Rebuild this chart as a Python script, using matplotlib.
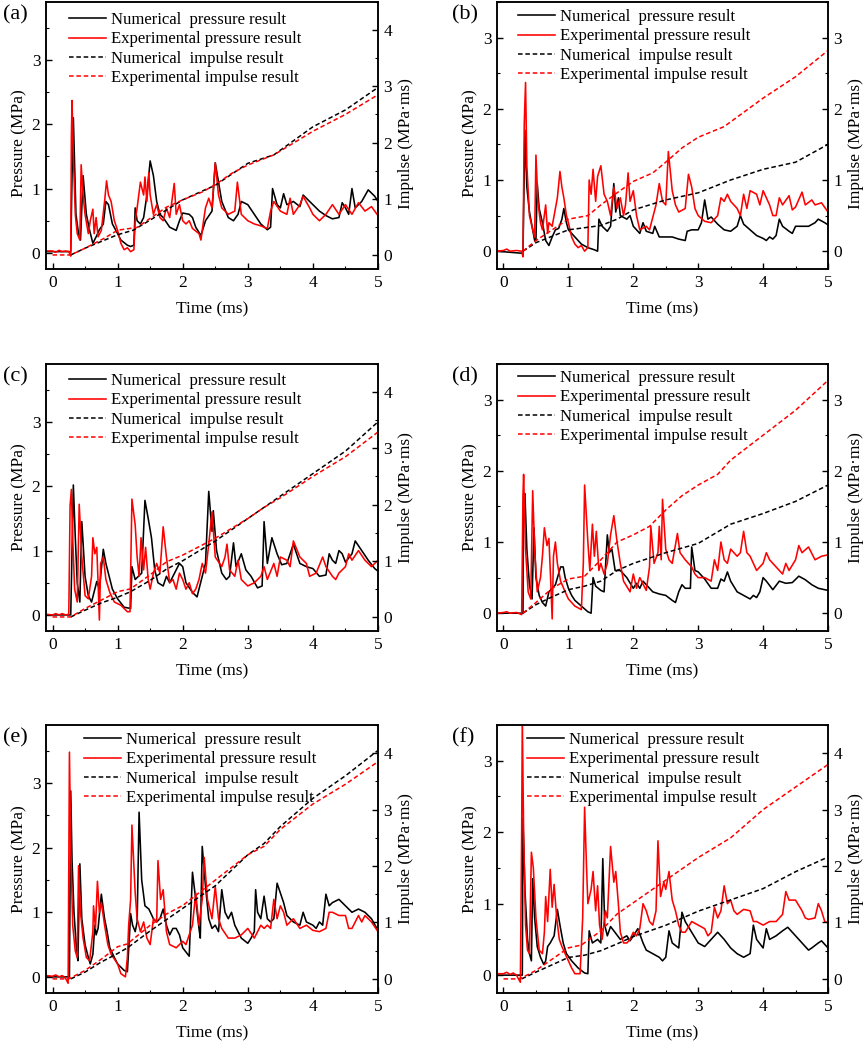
"""
Pressure / impulse time histories, numerical vs experimental, six cases (a)-(f).
"""
import matplotlib
matplotlib.use("Agg")
import matplotlib.pyplot as plt
from matplotlib.ticker import MultipleLocator
import numpy as np

plt.rcParams['font.family'] = ['Liberation Serif', 'DejaVu Serif']

LEGEND_LABELS = ['Numerical  pressure result', 'Experimental pressure result',
                 'Numerical  impulse result', 'Experimental impulse result']
PANEL_TAGS = ['(a)', '(b)', '(c)', '(d)', '(e)', '(f)']

# ---- (a) ----  (time ms, value)
A_NUM_P = [(-0.1, 0.02), (0.28, 0.02), (0.3, 1.2), (0.32, 2.1), (0.36, 0.6), (0.4, 0.3), (0.43, 0.2),
           (0.47, 1.2), (0.52, 0.6), (0.57, 0.35), (0.62, 0.15), (0.67, 0.25), (0.72, 0.36), (0.78, 0.45),
           (0.82, 0.8), (0.86, 0.75), (0.92, 0.45), (1.0, 0.3), (1.05, 0.2), (1.15, 0.12), (1.2, 0.1),
           (1.25, 0.12), (1.27, 0.7), (1.3, 0.5), (1.35, 0.45), (1.4, 0.55), (1.45, 0.9), (1.5, 1.43),
           (1.55, 1.2), (1.6, 0.8), (1.65, 0.6), (1.7, 0.55), (1.8, 0.4), (1.9, 0.35), (1.95, 0.5),
           (2.0, 0.62), (2.1, 0.6), (2.15, 0.55), (2.2, 0.4), (2.28, 0.27), (2.35, 0.5), (2.45, 0.65),
           (2.5, 1.4), (2.55, 1.1), (2.6, 0.8), (2.7, 0.55), (2.78, 0.5), (2.85, 0.6), (2.9, 0.8),
           (3.0, 0.75), (3.1, 0.6), (3.2, 0.45), (3.3, 0.36), (3.35, 0.4), (3.38, 1.0), (3.45, 0.75),
           (3.5, 0.7), (3.55, 0.92), (3.6, 0.75), (3.7, 0.8), (3.8, 0.72), (3.85, 0.9), (3.95, 0.8),
           (4.1, 0.65), (4.2, 0.58), (4.3, 0.53), (4.4, 0.55), (4.45, 0.78), (4.5, 0.7), (4.55, 0.6),
           (4.6, 1.0), (4.65, 0.7), (4.75, 0.8), (4.85, 0.98), (4.95, 0.88), (5.0, 0.8)]
A_EXP_P = [(-0.1, 0.03), (0.0, 0.03), (0.05, 0.01), (0.1, 0.04), (0.15, 0.02), (0.2, 0.03), (0.25, 0.02),
           (0.28, -0.05), (0.29, 1.8), (0.3, 2.37), (0.32, 1.5), (0.35, 0.6), (0.38, 0.3), (0.42, 0.2),
           (0.44, 1.37), (0.47, 0.9), (0.5, 0.6), (0.55, 0.3), (0.58, 0.5), (0.62, 0.68), (0.64, 0.3),
           (0.67, 0.55), (0.7, 0.25), (0.75, 0.35), (0.8, 0.8), (0.83, 1.12), (0.86, 0.9), (0.9, 0.8),
           (0.95, 0.5), (1.0, 0.35), (1.05, 0.15), (1.1, 0.05), (1.15, 0.08), (1.2, 0.02), (1.25, 0.05),
           (1.27, 0.5), (1.3, 0.7), (1.35, 1.1), (1.4, 0.9), (1.42, 1.18), (1.45, 0.8), (1.48, 1.25),
           (1.5, 0.9), (1.55, 0.6), (1.6, 0.75), (1.65, 0.55), (1.7, 0.5), (1.75, 0.7), (1.8, 0.55),
           (1.87, 1.08), (1.9, 0.6), (1.95, 0.75), (2.0, 0.5), (2.05, 0.45), (2.1, 0.5), (2.15, 0.38),
           (2.25, 0.3), (2.28, 0.2), (2.32, 0.5), (2.35, 0.7), (2.4, 0.85), (2.45, 0.7), (2.5, 1.4),
           (2.55, 0.9), (2.6, 0.7), (2.7, 0.6), (2.8, 0.65), (2.84, 1.1), (2.9, 0.6), (3.0, 0.5),
           (3.1, 0.45), (3.2, 0.42), (3.3, 0.38), (3.35, 0.65), (3.4, 0.8), (3.5, 0.65), (3.6, 0.6),
           (3.65, 0.85), (3.7, 0.6), (3.8, 0.75), (3.85, 0.88), (3.95, 0.7), (4.0, 0.6), (4.1, 0.5),
           (4.2, 0.6), (4.3, 0.75), (4.4, 0.6), (4.5, 0.75), (4.6, 0.6), (4.7, 0.78), (4.8, 0.65),
           (4.9, 0.72), (5.0, 0.58)]
A_NUM_I = [(0.28, 0.0), (0.5, 0.12), (0.75, 0.24), (1.0, 0.36), (1.24, 0.44), (1.5, 0.62), (2.0, 0.98),
           (2.5, 1.24), (3.0, 1.63), (3.4, 1.78), (4.0, 2.28), (4.5, 2.58), (5.0, 2.98)]
A_EXP_I = [(0.0, 0.0), (0.28, 0.0), (0.5, 0.12), (0.8, 0.3), (1.0, 0.44), (1.3, 0.49), (1.5, 0.65),
           (1.75, 0.85), (2.0, 0.98), (2.3, 1.12), (2.5, 1.25), (2.75, 1.45), (3.0, 1.6), (3.4, 1.78),
           (4.0, 2.2), (4.5, 2.5), (5.0, 2.85)]

# ---- (b) ----
B_NUM_P = [(-0.1, 0.0), (0.3, -0.03), (0.33, 1.7), (0.36, 0.9), (0.4, 0.55), (0.45, 0.3), (0.48, 0.15),
           (0.5, 0.15), (0.52, 0.95), (0.55, 0.6), (0.6, 0.4), (0.65, 0.15), (0.7, 0.08), (0.75, 0.2),
           (0.8, 0.3), (0.85, 0.32), (0.9, 0.45), (0.93, 0.6), (0.97, 0.4), (1.0, 0.3), (1.1, 0.2),
           (1.2, 0.1), (1.3, 0.05), (1.4, 0.02), (1.45, 0.0), (1.47, 0.45), (1.52, 0.35), (1.6, 0.28),
           (1.65, 0.35), (1.7, 0.95), (1.73, 0.55), (1.77, 0.75), (1.8, 0.5), (1.9, 0.45), (1.95, 0.5),
           (2.0, 0.35), (2.1, 0.25), (2.15, 0.4), (2.2, 0.28), (2.3, 0.25), (2.33, 0.35), (2.4, 0.2),
           (2.5, 0.2), (2.6, 0.2), (2.7, 0.17), (2.8, 0.15), (2.83, 0.28), (2.9, 0.3), (3.0, 0.3),
           (3.05, 0.4), (3.1, 0.72), (3.15, 0.45), (3.2, 0.48), (3.3, 0.38), (3.4, 0.3), (3.5, 0.28),
           (3.6, 0.35), (3.65, 0.5), (3.7, 0.38), (3.8, 0.3), (3.9, 0.22), (4.0, 0.18), (4.05, 0.15),
           (4.1, 0.2), (4.15, 0.17), (4.2, 0.22), (4.25, 0.45), (4.3, 0.35), (4.4, 0.28), (4.45, 0.25),
           (4.5, 0.35), (4.6, 0.35), (4.7, 0.35), (4.8, 0.4), (4.85, 0.45), (4.95, 0.4), (5.0, 0.37)]
B_EXP_P = [(-0.1, 0.0), (0.0, 0.01), (0.05, 0.03), (0.1, 0.0), (0.2, 0.01), (0.28, 0.0), (0.3, -0.08),
           (0.32, 1.8), (0.34, 2.37), (0.36, 1.2), (0.4, 0.5), (0.45, 0.3), (0.48, 0.2), (0.5, 1.35),
           (0.53, 0.7), (0.57, 0.4), (0.6, 0.3), (0.65, 0.65), (0.68, 0.25), (0.7, 0.4), (0.75, 0.35),
           (0.8, 0.6), (0.83, 0.75), (0.87, 1.12), (0.9, 0.9), (0.93, 0.75), (0.97, 0.5), (1.0, 0.4),
           (1.05, 0.2), (1.1, 0.1), (1.15, 0.05), (1.2, 0.08), (1.25, 0.0), (1.3, 0.05), (1.32, 1.0),
           (1.35, 0.8), (1.38, 1.15), (1.42, 0.7), (1.45, 1.05), (1.5, 1.2), (1.55, 0.8), (1.6, 0.7),
           (1.65, 0.5), (1.7, 0.9), (1.75, 0.6), (1.8, 0.75), (1.85, 0.5), (1.88, 0.65), (1.92, 1.1),
           (1.95, 0.7), (2.0, 0.85), (2.05, 0.5), (2.1, 0.3), (2.2, 0.35), (2.25, 0.3), (2.35, 0.65),
           (2.4, 0.95), (2.45, 0.7), (2.5, 0.65), (2.54, 1.4), (2.6, 0.85), (2.65, 0.65), (2.7, 0.55),
           (2.8, 0.6), (2.85, 1.08), (2.9, 0.9), (2.95, 0.6), (3.0, 0.5), (3.1, 0.42), (3.2, 0.4),
           (3.3, 0.5), (3.35, 0.75), (3.4, 0.7), (3.45, 0.8), (3.5, 0.7), (3.6, 0.6), (3.65, 0.5),
           (3.7, 0.8), (3.75, 0.6), (3.8, 0.85), (3.9, 0.8), (3.95, 0.65), (4.0, 0.85), (4.1, 0.65),
           (4.15, 0.5), (4.2, 0.5), (4.25, 0.75), (4.3, 0.65), (4.4, 0.78), (4.45, 0.58), (4.5, 0.62),
           (4.6, 0.83), (4.65, 0.65), (4.75, 0.72), (4.8, 0.65), (4.9, 0.68), (5.0, 0.55)]
B_NUM_I = [(0.3, 0.0), (0.5, 0.12), (1.0, 0.3), (1.5, 0.36), (1.75, 0.45), (2.0, 0.58), (2.5, 0.72),
           (3.0, 0.82), (3.5, 1.0), (4.0, 1.15), (4.5, 1.25), (5.0, 1.5)]
B_EXP_I = [(0.3, 0.0), (0.5, 0.15), (0.75, 0.3), (1.0, 0.45), (1.3, 0.5), (1.5, 0.65), (1.75, 0.82),
           (2.0, 0.98), (2.3, 1.1), (2.5, 1.25), (2.75, 1.45), (3.0, 1.6), (3.4, 1.75), (4.0, 2.15),
           (4.5, 2.45), (5.0, 2.82)]

# ---- (c) ----
C_NUM_P = [(-0.1, 0.0), (0.28, 0.0), (0.3, 1.0), (0.32, 2.02), (0.35, 1.2), (0.38, 0.5), (0.42, 0.2),
           (0.45, 1.45), (0.5, 0.6), (0.55, 0.3), (0.6, 0.2), (0.65, 0.4), (0.68, 0.52), (0.72, 0.4),
           (0.78, 1.02), (0.82, 0.8), (0.87, 0.6), (0.92, 0.4), (1.0, 0.25), (1.1, 0.12), (1.2, 0.1),
           (1.22, 0.75), (1.27, 0.55), (1.32, 0.6), (1.37, 0.65), (1.42, 1.78), (1.47, 1.5), (1.52, 1.2),
           (1.57, 0.7), (1.62, 0.5), (1.7, 0.45), (1.75, 0.6), (1.8, 0.5), (1.85, 0.6), (1.9, 0.7),
           (1.95, 0.8), (2.0, 0.75), (2.05, 0.5), (2.15, 0.35), (2.22, 0.28), (2.3, 0.6), (2.35, 0.8),
           (2.4, 1.92), (2.45, 1.3), (2.47, 1.62), (2.52, 1.0), (2.6, 0.65), (2.67, 0.55), (2.72, 0.6),
           (2.78, 1.12), (2.82, 0.75), (2.9, 0.95), (2.97, 0.7), (3.05, 0.6), (3.15, 0.42), (3.22, 0.45),
           (3.25, 1.45), (3.3, 0.8), (3.37, 1.2), (3.45, 0.95), (3.52, 0.78), (3.6, 0.8), (3.7, 1.1),
           (3.75, 0.95), (3.8, 0.8), (3.9, 0.75), (4.0, 0.72), (4.1, 0.6), (4.2, 0.62), (4.25, 0.95),
           (4.3, 0.85), (4.35, 0.8), (4.4, 1.0), (4.45, 0.95), (4.5, 0.82), (4.6, 0.95), (4.65, 1.15),
           (4.75, 1.0), (4.85, 0.85), (4.95, 0.72), (5.0, 0.68)]
C_EXP_P = [(-0.1, 0.01), (0.0, 0.0), (0.05, 0.02), (0.1, 0.0), (0.15, 0.02), (0.2, 0.0), (0.25, 0.01),
           (0.27, 1.7), (0.29, 1.95), (0.31, 1.2), (0.34, 0.4), (0.38, 0.2), (0.41, 1.72), (0.45, 0.9),
           (0.5, 0.3), (0.55, 0.25), (0.6, 0.6), (0.62, 1.2), (0.65, 0.95), (0.68, 1.05), (0.7, 0.5),
           (0.72, -0.08), (0.74, 0.8), (0.78, 0.9), (0.82, 0.55), (0.88, 0.35), (0.95, 0.2), (1.05, 0.15),
           (1.15, 0.05), (1.19, 0.05), (1.22, 1.8), (1.27, 1.4), (1.3, 0.9), (1.33, 0.6), (1.36, 1.2),
           (1.4, 0.7), (1.43, 1.05), (1.47, 0.55), (1.5, 0.4), (1.55, 0.65), (1.6, 0.8), (1.65, 0.65),
           (1.7, 1.37), (1.75, 0.9), (1.8, 0.5), (1.85, 0.55), (1.9, 0.4), (1.95, 0.65), (2.0, 0.55),
           (2.05, 0.4), (2.1, 0.5), (2.15, 0.33), (2.2, 0.4), (2.25, 0.55), (2.3, 0.8), (2.35, 0.65),
           (2.4, 1.1), (2.45, 1.6), (2.5, 0.9), (2.6, 0.75), (2.65, 0.9), (2.68, 1.1), (2.72, 0.7),
           (2.8, 0.6), (2.85, 0.85), (2.9, 0.55), (3.0, 0.45), (3.1, 0.5), (3.2, 0.6), (3.25, 0.75),
           (3.3, 0.55), (3.4, 0.8), (3.45, 0.6), (3.5, 0.9), (3.6, 0.85), (3.65, 0.75), (3.7, 1.15),
           (3.8, 0.9), (3.9, 0.8), (3.95, 0.6), (4.05, 0.65), (4.15, 0.9), (4.2, 0.75), (4.3, 0.6),
           (4.35, 0.55), (4.4, 0.65), (4.5, 0.75), (4.55, 0.95), (4.6, 0.85), (4.7, 1.0), (4.8, 0.85),
           (4.9, 0.75), (5.0, 0.85)]
C_NUM_I = [(0.28, 0.0), (0.5, 0.12), (0.75, 0.25), (1.0, 0.35), (1.2, 0.45), (1.5, 0.65), (1.75, 0.85),
           (2.0, 1.0), (2.5, 1.35), (3.0, 1.75), (3.25, 1.95), (3.5, 2.15), (4.0, 2.55), (4.5, 2.95),
           (5.0, 3.47)]
C_EXP_I = [(0.0, 0.0), (0.28, 0.0), (0.5, 0.15), (0.75, 0.3), (1.0, 0.45), (1.2, 0.5), (1.5, 0.75),
           (1.75, 0.98), (2.0, 1.1), (2.5, 1.4), (3.0, 1.75), (3.25, 1.95), (3.5, 2.12), (4.0, 2.5),
           (4.5, 2.85), (5.0, 3.29)]

# ---- (d) ----
D_NUM_P = [(-0.1, 0.0), (0.3, 0.0), (0.31, 1.65), (0.33, 1.68), (0.36, 0.9), (0.4, 0.4), (0.44, 0.2),
           (0.47, 1.2), (0.5, 0.5), (0.55, 0.25), (0.6, 0.15), (0.65, 0.1), (0.7, 0.3), (0.75, 0.35),
           (0.8, 0.4), (0.88, 0.65), (0.92, 0.65), (0.95, 0.5), (1.0, 0.35), (1.05, 0.25), (1.1, 0.18),
           (1.2, 0.1), (1.3, 0.02), (1.35, 0.0), (1.38, 0.5), (1.42, 0.38), (1.5, 0.32), (1.55, 0.3),
           (1.6, 1.1), (1.63, 0.85), (1.67, 0.9), (1.72, 0.6), (1.8, 0.6), (1.9, 0.5), (2.0, 0.35),
           (2.05, 0.42), (2.1, 0.35), (2.15, 0.45), (2.2, 0.4), (2.3, 0.3), (2.4, 0.27), (2.5, 0.25),
           (2.6, 0.18), (2.65, 0.15), (2.7, 0.3), (2.75, 0.4), (2.8, 0.35), (2.88, 0.35), (2.9, 0.93),
           (2.95, 0.6), (3.0, 0.58), (3.1, 0.48), (3.2, 0.35), (3.3, 0.35), (3.35, 0.48), (3.4, 0.45),
           (3.45, 0.58), (3.5, 0.45), (3.6, 0.3), (3.7, 0.25), (3.8, 0.2), (3.85, 0.25), (3.9, 0.22),
           (3.95, 0.3), (4.0, 0.5), (4.05, 0.45), (4.15, 0.33), (4.25, 0.45), (4.35, 0.42), (4.45, 0.43),
           (4.55, 0.52), (4.65, 0.47), (4.75, 0.4), (4.85, 0.35), (5.0, 0.32)]
D_EXP_P = [(-0.1, 0.0), (0.0, 0.01), (0.05, 0.02), (0.1, 0.0), (0.2, 0.01), (0.28, -0.02), (0.3, 1.65),
           (0.31, 1.95), (0.34, 0.9), (0.38, 0.3), (0.42, 0.2), (0.45, 1.72), (0.48, 0.9), (0.52, 0.3),
           (0.57, 0.5), (0.6, 0.8), (0.63, 1.2), (0.67, 0.95), (0.7, 1.05), (0.73, 0.4), (0.75, -0.08),
           (0.77, 0.8), (0.8, 1.0), (0.83, 0.7), (0.88, 0.45), (0.95, 0.3), (1.0, 0.2), (1.1, 0.1),
           (1.2, 0.05), (1.23, 0.7), (1.25, 1.8), (1.3, 1.0), (1.33, 0.6), (1.37, 1.25), (1.4, 0.8),
           (1.43, 1.15), (1.47, 0.6), (1.5, 0.7), (1.55, 0.55), (1.6, 0.7), (1.65, 1.1), (1.7, 1.37),
           (1.75, 1.0), (1.8, 0.7), (1.85, 0.45), (1.95, 0.3), (2.0, 0.55), (2.05, 0.35), (2.1, 0.5),
           (2.2, 0.32), (2.25, 0.65), (2.27, 1.22), (2.32, 0.7), (2.38, 0.85), (2.4, 1.22), (2.43, 0.75),
           (2.45, 1.6), (2.5, 0.9), (2.55, 0.75), (2.6, 0.7), (2.68, 1.12), (2.72, 0.85), (2.8, 0.75),
           (2.9, 0.65), (2.95, 0.55), (3.0, 0.5), (3.1, 0.5), (3.2, 0.45), (3.25, 0.75), (3.3, 0.6),
           (3.35, 1.0), (3.4, 0.75), (3.45, 0.7), (3.5, 0.9), (3.6, 0.8), (3.65, 0.85), (3.7, 1.15),
           (3.75, 0.85), (3.8, 0.8), (3.85, 0.7), (3.9, 0.6), (4.0, 0.7), (4.05, 0.85), (4.1, 0.75),
           (4.2, 0.65), (4.3, 0.55), (4.35, 0.7), (4.4, 0.6), (4.5, 0.75), (4.55, 0.95), (4.6, 0.85),
           (4.7, 0.93), (4.8, 0.75), (4.9, 0.8), (5.0, 0.82)]
D_NUM_I = [(0.3, 0.0), (0.5, 0.12), (0.75, 0.23), (1.0, 0.33), (1.25, 0.38), (1.5, 0.45), (1.75, 0.6),
           (2.0, 0.7), (2.5, 0.85), (3.0, 0.98), (3.5, 1.25), (4.0, 1.4), (4.5, 1.57), (5.0, 1.8)]
D_EXP_I = [(0.3, 0.0), (0.5, 0.15), (0.75, 0.35), (1.0, 0.48), (1.25, 0.52), (1.5, 0.75), (1.75, 1.0),
           (2.0, 1.1), (2.25, 1.22), (2.5, 1.45), (2.75, 1.65), (3.0, 1.8), (3.3, 1.95), (3.5, 2.15),
           (4.0, 2.5), (4.5, 2.85), (5.0, 3.27)]

# ---- (e) ----
E_NUM_P = [(-0.1, 0.0), (0.26, 0.0), (0.28, 2.88), (0.3, 1.8), (0.33, 1.0), (0.37, 0.4), (0.39, 0.25),
           (0.42, 1.75), (0.45, 0.9), (0.5, 0.5), (0.55, 0.3), (0.58, 0.2), (0.62, 0.35), (0.65, 0.8),
           (0.67, 0.65), (0.7, 0.75), (0.75, 1.28), (0.8, 0.9), (0.83, 0.75), (0.88, 0.45), (0.95, 0.3),
           (1.0, 0.2), (1.1, 0.1), (1.15, 0.08), (1.18, 0.6), (1.2, 0.98), (1.23, 0.8), (1.27, 0.7),
           (1.3, 0.85), (1.33, 2.55), (1.37, 1.5), (1.42, 1.1), (1.48, 1.05), (1.55, 0.9), (1.6, 0.85),
           (1.65, 0.9), (1.7, 1.05), (1.75, 0.8), (1.8, 0.65), (1.85, 0.75), (1.9, 0.75), (1.95, 0.65),
           (2.0, 0.45), (2.1, 0.32), (2.15, 1.62), (2.2, 1.2), (2.25, 0.75), (2.27, 0.6), (2.3, 2.02),
           (2.35, 1.4), (2.4, 0.9), (2.45, 0.75), (2.5, 0.8), (2.55, 0.7), (2.6, 1.35), (2.65, 1.0),
           (2.7, 0.9), (2.75, 1.0), (2.8, 0.8), (2.9, 0.6), (3.0, 0.52), (3.05, 0.6), (3.1, 0.7),
           (3.12, 1.35), (3.15, 1.0), (3.2, 0.9), (3.25, 1.25), (3.3, 0.9), (3.35, 0.85), (3.4, 0.9),
           (3.45, 1.45), (3.5, 1.3), (3.55, 1.15), (3.6, 0.95), (3.7, 0.85), (3.8, 0.8), (3.85, 1.0),
           (3.9, 0.85), (4.0, 0.8), (4.05, 0.75), (4.1, 0.85), (4.15, 0.8), (4.2, 1.28), (4.25, 1.1),
           (4.3, 1.15), (4.4, 1.2), (4.5, 1.1), (4.6, 1.0), (4.7, 1.05), (4.8, 1.0), (4.9, 0.9),
           (5.0, 0.72)]
E_EXP_P = [(-0.1, 0.02), (0.0, 0.01), (0.05, 0.03), (0.1, 0.0), (0.15, 0.02), (0.2, -0.02), (0.24, -0.1),
           (0.26, 3.48), (0.28, 2.0), (0.31, 0.8), (0.35, 0.4), (0.38, 0.3), (0.4, 1.72), (0.43, 1.0),
           (0.47, 0.6), (0.52, 0.3), (0.57, 0.25), (0.62, 0.7), (0.63, 1.1), (0.66, 0.75), (0.69, 1.48),
           (0.72, 1.0), (0.75, 1.15), (0.8, 0.8), (0.85, 0.5), (0.9, 0.35), (1.0, 0.2), (1.05, 0.05),
           (1.12, 0.0), (1.15, 0.3), (1.17, 0.8), (1.2, 1.2), (1.22, 2.35), (1.27, 1.3), (1.3, 0.9),
           (1.35, 0.7), (1.4, 0.85), (1.45, 0.6), (1.5, 0.5), (1.55, 0.9), (1.6, 0.85), (1.62, 1.8),
           (1.66, 1.2), (1.7, 1.35), (1.75, 0.7), (1.8, 0.5), (1.9, 0.45), (2.0, 0.55), (2.05, 0.5),
           (2.1, 0.65), (2.15, 0.8), (2.2, 1.3), (2.25, 0.8), (2.3, 1.2), (2.33, 1.85), (2.38, 1.2),
           (2.45, 0.9), (2.5, 1.4), (2.55, 0.9), (2.6, 0.75), (2.7, 0.6), (2.8, 0.6), (2.9, 0.65),
           (3.0, 0.75), (3.1, 0.6), (3.2, 0.8), (3.25, 0.75), (3.3, 0.8), (3.35, 0.75), (3.4, 1.2),
           (3.45, 0.9), (3.5, 1.1), (3.55, 1.0), (3.6, 0.8), (3.7, 0.9), (3.8, 0.75), (3.9, 0.8),
           (4.0, 0.72), (4.1, 0.7), (4.2, 0.75), (4.25, 1.0), (4.3, 1.0), (4.4, 0.95), (4.5, 0.95),
           (4.55, 0.75), (4.6, 0.75), (4.7, 0.95), (4.75, 0.85), (4.8, 0.95), (4.9, 0.85), (5.0, 0.7)]
E_NUM_I = [(0.28, 0.0), (0.5, 0.12), (0.75, 0.3), (1.0, 0.45), (1.15, 0.55), (1.5, 0.85), (1.75, 1.05),
           (2.0, 1.25), (2.5, 1.65), (3.0, 2.2), (3.25, 2.4), (3.5, 2.7), (4.0, 3.2), (4.5, 3.6),
           (5.0, 4.05)]
E_EXP_I = [(0.0, 0.0), (0.25, 0.0), (0.5, 0.15), (0.75, 0.35), (1.0, 0.57), (1.15, 0.62), (1.5, 0.95),
           (1.75, 1.15), (2.0, 1.3), (2.5, 1.75), (3.0, 2.2), (3.25, 2.35), (3.5, 2.65), (4.0, 3.1),
           (4.5, 3.45), (5.0, 3.85)]

# ---- (f) ----
F_NUM_P = [(-0.1, 0.0), (0.29, 0.0), (0.3, 2.2), (0.33, 1.2), (0.37, 0.5), (0.4, 0.3), (0.43, 0.2),
           (0.45, 1.35), (0.48, 0.8), (0.52, 0.4), (0.57, 0.25), (0.62, 0.15), (0.65, 0.2), (0.68, 0.4),
           (0.72, 0.45), (0.78, 0.55), (0.83, 0.92), (0.87, 0.7), (0.92, 0.45), (0.97, 0.3), (1.05, 0.2),
           (1.15, 0.1), (1.25, 0.03), (1.3, 0.02), (1.32, 0.62), (1.37, 0.45), (1.45, 0.5), (1.5, 0.45),
           (1.53, 1.63), (1.56, 0.7), (1.6, 0.55), (1.65, 0.68), (1.7, 0.62), (1.8, 0.5), (1.9, 0.55),
           (1.95, 0.48), (2.0, 0.55), (2.07, 0.65), (2.15, 0.45), (2.2, 0.35), (2.3, 0.3), (2.4, 0.25),
           (2.45, 0.2), (2.5, 0.25), (2.55, 0.62), (2.6, 0.45), (2.7, 0.38), (2.75, 0.88), (2.8, 0.75),
           (2.9, 0.6), (3.0, 0.45), (3.1, 0.4), (3.2, 0.5), (3.3, 0.6), (3.4, 0.5), (3.5, 0.38),
           (3.6, 0.3), (3.7, 0.25), (3.8, 0.3), (3.85, 0.7), (3.9, 0.5), (4.0, 0.38), (4.05, 0.65),
           (4.1, 0.5), (4.2, 0.55), (4.3, 0.62), (4.38, 0.67), (4.5, 0.55), (4.6, 0.45), (4.7, 0.35),
           (4.75, 0.38), (4.85, 0.45), (4.9, 0.48), (5.0, 0.38)]
F_EXP_P = [(-0.1, 0.02), (0.0, 0.02), (0.05, 0.04), (0.1, 0.01), (0.15, 0.03), (0.2, 0.0), (0.26, -0.1),
           (0.28, 2.0), (0.29, 3.6), (0.31, 2.0), (0.34, 0.7), (0.37, 0.35), (0.4, 0.3), (0.43, 1.72),
           (0.46, 1.5), (0.5, 0.8), (0.55, 0.35), (0.6, 0.3), (0.63, 0.6), (0.65, 1.1), (0.68, 0.75),
           (0.72, 1.48), (0.75, 0.95), (0.78, 1.27), (0.82, 0.8), (0.86, 0.5), (0.9, 0.4), (0.95, 0.3),
           (1.0, 0.2), (1.05, 0.1), (1.1, 0.02), (1.18, 0.02), (1.2, 0.4), (1.22, 0.8), (1.25, 2.35),
           (1.28, 1.5), (1.3, 1.0), (1.35, 1.2), (1.38, 1.45), (1.42, 0.9), (1.45, 1.25), (1.48, 0.7),
           (1.52, 0.5), (1.57, 0.9), (1.6, 0.8), (1.65, 1.8), (1.7, 1.3), (1.73, 1.45), (1.77, 1.0),
           (1.8, 0.6), (1.85, 0.45), (1.9, 0.45), (1.95, 0.5), (2.0, 0.6), (2.05, 0.55), (2.1, 0.65),
           (2.15, 1.0), (2.2, 0.9), (2.25, 0.75), (2.3, 0.7), (2.35, 0.9), (2.38, 1.88), (2.42, 1.1),
           (2.47, 1.3), (2.5, 1.2), (2.55, 1.45), (2.6, 1.05), (2.65, 0.9), (2.7, 0.7), (2.75, 0.6),
           (2.8, 0.6), (2.9, 0.75), (3.0, 0.7), (3.1, 0.65), (3.15, 0.55), (3.2, 0.6), (3.25, 0.95),
           (3.3, 0.8), (3.35, 0.9), (3.4, 1.25), (3.45, 1.0), (3.5, 1.05), (3.55, 0.9), (3.6, 0.85),
           (3.7, 0.92), (3.8, 0.9), (3.85, 0.75), (3.9, 0.75), (4.0, 0.7), (4.1, 0.75), (4.2, 0.75),
           (4.3, 0.85), (4.35, 1.17), (4.4, 1.05), (4.5, 1.05), (4.6, 0.9), (4.65, 0.8), (4.7, 0.78),
           (4.8, 0.8), (4.85, 1.0), (4.9, 0.9), (4.95, 0.75), (5.0, 0.73)]
F_NUM_I = [(0.28, 0.0), (0.5, 0.12), (0.75, 0.25), (1.0, 0.38), (1.25, 0.42), (1.5, 0.5), (1.75, 0.62),
           (2.0, 0.75), (2.5, 0.95), (3.0, 1.2), (3.5, 1.4), (4.0, 1.6), (4.5, 1.9), (5.0, 2.16)]
F_EXP_I = [(0.0, 0.0), (0.25, 0.0), (0.5, 0.15), (0.75, 0.35), (1.0, 0.55), (1.2, 0.6), (1.5, 0.85),
           (1.75, 1.15), (2.0, 1.35), (2.5, 1.75), (3.0, 2.15), (3.5, 2.5), (4.0, 3.0), (4.5, 3.4),
           (5.0, 3.8)]

PRESSURE_YLIM = [(-0.25, 3.9), (-0.25, 3.5), (-0.25, 3.9), (-0.25, 3.5), (-0.25, 3.9), (-0.25, 3.5)]
IMPULSE_YLIM = [(-0.25, 4.5), (-0.25, 3.5), (-0.25, 4.5), (-0.25, 3.5), (-0.25, 4.5), (-0.25, 4.5)]

PANELS = [
    (A_NUM_P, A_EXP_P, A_NUM_I, A_EXP_I),
    (B_NUM_P, B_EXP_P, B_NUM_I, B_EXP_I),
    (C_NUM_P, C_EXP_P, C_NUM_I, C_EXP_I),
    (D_NUM_P, D_EXP_P, D_NUM_I, D_EXP_I),
    (E_NUM_P, E_EXP_P, E_NUM_I, E_EXP_I),
    (F_NUM_P, F_EXP_P, F_NUM_I, F_EXP_I),
]

W, H = 865, 1043
# axes boxes in pixels: (left, right) per column, (top, bottom) per row
COL_X = [(46, 378), (497, 828)]
ROW_Y = [(2, 269), (364, 631), (725, 993)]
TAG_X = [3, 452]
# legend offset from axes top-left (px)
LEG_OFF = [(23, 10), (21, 7), (23, 9), (21, 6), (38, 7), (30, 7)]
# vertical centre of the y labels (axes fraction) per row
YLAB_Y = [0.47, 0.5, 0.5]

DASH = (0, (3.0, 1.8))

fig = plt.figure(figsize=(W / 100, H / 100), dpi=100)

for i, (num_p, exp_p, num_i, exp_i) in enumerate(PANELS):
    r, c = divmod(i, 2)
    x0, x1 = COL_X[c]
    y0, y1 = ROW_Y[r]
    ax_w, ax_h = x1 - x0, y1 - y0
    ax = fig.add_axes([x0 / W, 1 - y1 / H, ax_w / W, ax_h / H])
    ax2 = ax.twinx()

    t, v = np.array(num_p).T
    h1, = ax.plot(t, v, color='black', lw=1.15)
    t, v = np.array(exp_p).T
    h2, = ax.plot(t, v, color='#ff0000', lw=1.15)
    t, v = np.array(num_i).T
    h3, = ax2.plot(t, v, color='black', lw=1.1, ls=DASH)
    t, v = np.array(exp_i).T
    h4, = ax2.plot(t, v, color='#ff0000', lw=1.1, ls=DASH)

    ax.set_xlim(-0.1, 5)
    ax.set_ylim(*PRESSURE_YLIM[i])
    ax2.set_ylim(*IMPULSE_YLIM[i])
    ax.xaxis.set_major_locator(MultipleLocator(1))
    ax.xaxis.set_minor_locator(MultipleLocator(0.5))
    ax.yaxis.set_major_locator(MultipleLocator(1))
    ax.yaxis.set_minor_locator(MultipleLocator(0.5))
    ax2.yaxis.set_major_locator(MultipleLocator(1))
    ax2.yaxis.set_minor_locator(MultipleLocator(0.5))

    for a in (ax, ax2):
        a.tick_params(which='both', direction='in', labelsize=12.5, pad=4)
        a.tick_params(which='major', length=4, width=1.0)
        a.tick_params(which='minor', length=2.5, width=0.8)
        for s in a.spines.values():
            s.set_linewidth(1.1)

    ax.set_xlabel('Time (ms)', fontsize=12.5, labelpad=8)
    ax.set_ylabel('Pressure (MPa)', fontsize=12.5, labelpad=3)
    ax2.set_ylabel('Impulse (MPa·ms)', fontsize=12.5, labelpad=4)
    ax.yaxis.label.set_y(YLAB_Y[r])
    ax2.yaxis.label.set_y(YLAB_Y[r])

    ax.text((TAG_X[c] - x0) / ax_w, 1 - 13 / ax_h, PANEL_TAGS[i],
            transform=ax.transAxes, fontsize=16, ha='left', va='center')

    dx, dy = LEG_OFF[i]
    ax2.legend([h1, h2, h3, h4], LEGEND_LABELS, loc='upper left',
               bbox_to_anchor=(dx / ax_w, 1 - dy / ax_h), frameon=False,
               fontsize=12, handlelength=2.2, handletextpad=0.3,
               labelspacing=0.2, borderpad=0, borderaxespad=0)

fig.savefig('out.png', dpi=100)
